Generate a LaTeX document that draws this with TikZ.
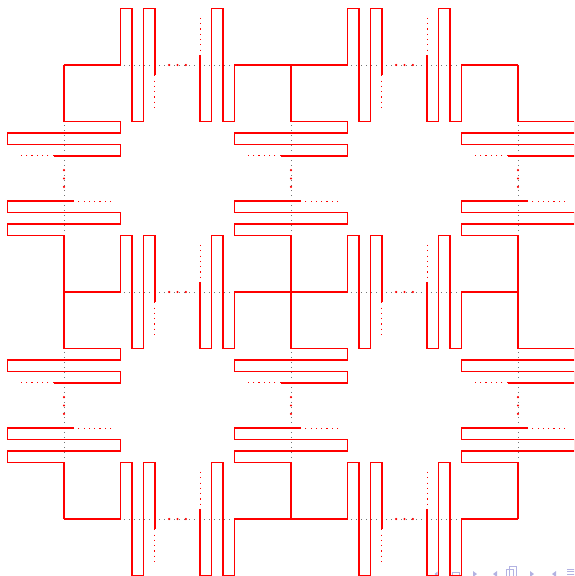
\documentclass[tikz,border=0pt]{standalone}

\definecolor{nawigkolor}{RGB}{178,178,226}

\tikzset{
  linia/.style={red, line width=1.45pt},
  kropki/.style={red, line width=1.1pt, dash pattern=on 1.1pt off 4.2pt},
  srodek/.style={black!55, line width=0.7pt, dash pattern=on 0.7pt off 4.3pt},
  ikona/.style={fill=nawigkolor, draw=none},
  meander/.pic={
    % linia środkowa
    \draw[srodek] (0,0) -- (4,0);
    % początek krawędzi
    \draw[linia] (0,0) -- (1,0) -- (1,1) -- (1.2,1) -- (1.2,-1) -- (1.4,-1)
      -- (1.4,1) -- (1.6,1) -- (1.6,-0.18);
    \draw[kropki] (1.6,-0.18) -- (1.6,-0.83);
    % koniec krawędzi
    \draw[kropki] (2.4,0.83) -- (2.4,0.18);
    \draw[linia] (2.4,0.18) -- (2.4,-1) -- (2.6,-1) -- (2.6,1) -- (2.8,1)
      -- (2.8,-1) -- (3,-1) -- (3,0) -- (4,0);
    % wielokropek
    \foreach \t in {1.853,2,2.147}
      \fill[red] (\t,0) circle (1.2pt);
  }
}

\begin{document}
\begin{tikzpicture}[x=56.75pt, y=56.75pt]
    \useasboundingbox (-64pt,65pt) rectangle (510pt,-511pt);
    \clip (-64pt,65pt) rectangle (510pt,-511pt);

    % Symbole nawigacji
    \begin{scope}[shift={(-64pt,65pt)}, x=1pt, y=-1pt]
        \fill[ikona] (437.5,571.5) -- (434.5,574) -- (437.5,576.5) -- cycle;
        \draw[nawigkolor, line width=0.8pt] (452.5,572) rectangle (459.5,578);
        \fill[ikona] (473,571) -- (477,574) -- (473,577) -- cycle;
        \fill[ikona] (497,571) -- (493,574) -- (497,577) -- cycle;
        \draw[nawigkolor, line width=0.8pt] (509,566.5) rectangle (516,578);
        \draw[nawigkolor, line width=0.8pt] (506.5,569) rectangle (513.5,578);
        \fill[ikona] (530,571) -- (534,574) -- (530,577) -- cycle;
        \fill[ikona] (556,571) -- (552,574) -- (556,577) -- cycle;
        \foreach \y in {569,571.5,574}
            \draw[nawigkolor, line width=0.8pt] (567,\y) -- (575,\y);
    \end{scope}

    % Wierzchołki siatki
    \foreach \i in {0,1,2}
        \foreach \j in {0,1,2}
            \coordinate (w-\i-\j) at (4*\i,-4*\j);

    % Krawędzie poziome
    \foreach \i in {0,1}
        \foreach \j in {0,1,2}
            \pic at (w-\i-\j) {meander};

    % Krawędzie pionowe
    \foreach \i in {0,1,2}
        \foreach \j in {0,1}
            \pic[rotate=-90] at (w-\i-\j) {meander};
\end{tikzpicture}
\end{document}
